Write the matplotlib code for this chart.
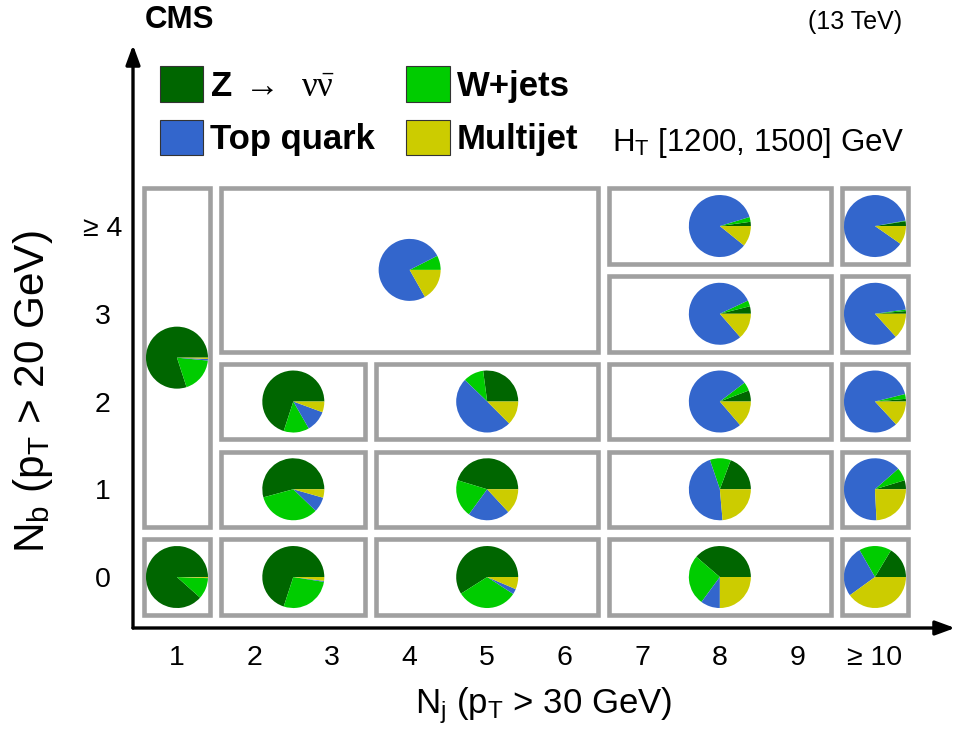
import matplotlib
matplotlib.use("Agg")
import matplotlib.pyplot as plt
from matplotlib.patches import Rectangle, Patch

plt.rcParams['font.family'] = ['Liberation Sans', 'DejaVu Sans']
plt.rcParams['mathtext.fontset'] = 'custom'
plt.rcParams['mathtext.rm'] = 'Liberation Serif'
plt.rcParams['mathtext.it'] = 'Liberation Serif:italic'
plt.rcParams['mathtext.bf'] = 'Liberation Sans:bold'

# Background processes (pie order, counter-clockwise from 3 o'clock)
process_labels = [r'$\mathbf{Z}\ \rightarrow\ \ \mathrm{\nu\bar{\nu}}$', 'W+jets', 'Top quark', 'Multijet']
process_colors = ['#006600', '#00cc00', '#3366cc', '#cccc00']

nj_tick_labels = ['1', '2', '3', '4', '5', '6', '7', '8', '9', '\u2265 10']
nb_tick_labels = ['0', '1', '2', '3', '\u2265 4']

# Search regions: (Nj low, Nj high, Nb low, Nb high); last bins are inclusive
regions = [
    (1, 1, 0, 0), (1, 1, 1, 4),
    (2, 3, 0, 0), (2, 3, 1, 1), (2, 3, 2, 2),
    (2, 6, 3, 4),
    (4, 6, 0, 0), (4, 6, 1, 1), (4, 6, 2, 2),
    (7, 9, 0, 0), (7, 9, 1, 1), (7, 9, 2, 2), (7, 9, 3, 3), (7, 9, 4, 4),
    (10, 10, 0, 0), (10, 10, 1, 1), (10, 10, 2, 2), (10, 10, 3, 3), (10, 10, 4, 4),
]

# Background composition per region (%)
z_nunu    = [88.4, 80.0, 70.0, 54.2, 70.0,  0.0, 59.0, 45.3, 27.1, 38.7, 19.3,  5.8,  3.9,  2.2, 16.4,  4.7,  1.4,  1.4,  2.5]
w_jets    = [11.0, 18.5, 27.5, 33.6, 13.3,  7.5, 31.8, 19.7, 10.7, 26.2, 10.9,  4.6,  3.1,  2.5, 16.9,  6.8,  2.5,  0.8,  0.3]
top_quark = [ 0.1,  0.8,  0.5,  7.8, 11.1, 75.7,  2.8, 21.9, 49.7, 10.1, 46.2, 75.9, 79.4, 84.5, 26.7, 64.3, 83.0, 84.5, 87.5]
multijet  = [ 0.5,  0.7,  2.0,  4.4,  5.6, 16.8,  6.4, 13.1, 12.5, 25.0, 23.6, 13.7, 13.6, 10.8, 40.0, 24.2, 13.1, 13.3,  9.7]

W, H = 957, 740
fig = plt.figure(figsize=(W / 100, H / 100), dpi=100)
ax = fig.add_axes([133 / W, 112 / H, 822 / W, 583 / H])
ax.set_xlim(0.433, 11.032)
ax.set_ylim(-0.581, 6.063)
for s in ax.spines.values():
    s.set_visible(False)

# axes drawn as arrows
arrow_kw = dict(arrowstyle='-|>,head_length=0.9,head_width=0.33', lw=2.4, color='black',
                shrinkA=0, shrinkB=0, mutation_scale=13)
ax.annotate('', xy=(0, 1), xytext=(0, 0), xycoords='axes fraction', arrowprops=arrow_kw)
ax.annotate('', xy=(1, 0), xytext=(0, 0), xycoords='axes fraction', arrowprops=arrow_kw)

ax.set_xticks(range(1, 11), nj_tick_labels, fontsize=20.5)
ax.set_yticks(range(0, 5), nb_tick_labels, fontsize=20.5, ha='center')
ax.tick_params(axis='x', length=0, pad=12)
ax.tick_params(axis='y', length=0, pad=21.6)

ax.set_xlabel(r'N$_\mathregular{j}$ (p$_\mathregular{T}$ > 30 GeV)', fontsize=25, labelpad=11)
ax.set_ylabel(r'N$_\mathregular{b}$ (p$_\mathregular{T}$ > 20 GeV)', fontsize=30.5)
ax.yaxis.set_label_coords(-0.095, 0.405)

# region boxes and pies
margin = 0.43
x_span = ax.get_xlim()[1] - ax.get_xlim()[0]
y_span = ax.get_ylim()[1] - ax.get_ylim()[0]
r_px = 31.0
rx = r_px * x_span / ax.bbox.width
ry = r_px * y_span / ax.bbox.height

for i, (jl, jh, bl, bh) in enumerate(regions):
    ax.add_patch(Rectangle((jl - margin, bl - margin), jh - jl + 2 * margin, bh - bl + 2 * margin,
                           fill=False, edgecolor='#a0a0a0', linewidth=3.3))
    cx, cy = (jl + jh) / 2, (bl + bh) / 2
    iax = ax.inset_axes([cx - rx, cy - ry, 2 * rx, 2 * ry], transform=ax.transData)
    iax.pie([z_nunu[i], w_jets[i], top_quark[i], multijet[i]], colors=process_colors,
            startangle=0, counterclock=True, radius=1.0, wedgeprops=dict(linewidth=0))
    iax.set_xlim(-1, 1)
    iax.set_ylim(-1, 1)
    iax.axis('off')

# legend
handles = [Patch(facecolor=c, edgecolor='#333333', linewidth=0.8) for c in process_colors]
order = [0, 2, 1, 3]
leg = ax.legend([handles[k] for k in order], [process_labels[k] for k in order], ncol=2,
                loc='upper left', bbox_to_anchor=(160 / W, 1 - 66 / H), bbox_transform=fig.transFigure,
                frameon=False, borderpad=0, borderaxespad=0, handlelength=1.25, handleheight=1.2,
                handletextpad=0.2, columnspacing=0.9, labelspacing=0.5,
                prop=dict(family='Liberation Sans', weight='bold', size=25))

fig.text(612 / W, 1 - 143 / H, r'H$_\mathregular{T}$ [1200, 1500] GeV', fontsize=22.5, va='center', ha='left')
fig.text(145 / W, 1 - 20 / H, 'CMS', fontsize=22.5, weight='bold', va='center', ha='left')
fig.text(902 / W, 1 - 22 / H, '(13 TeV)', fontsize=18, va='center', ha='right')

fig.savefig('out.png', dpi=100)
